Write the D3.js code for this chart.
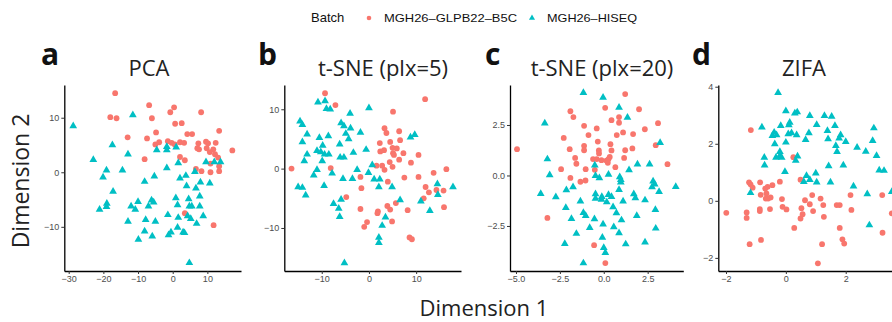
<!DOCTYPE html>
<html>
<head>
<meta charset="utf-8">
<script src="https://cdn.jsdelivr.net/npm/d3@7"></script>
<style>
  html, body { margin: 0; padding: 0; background: #fff; }
  svg { display: block; }
</style>
</head>
<body>
<div id="chart"></div>
<script>
// batch names
const batches = ['MGH26\u2013GLPB22\u2013B5C', 'MGH26\u2013HISEQ'];

// PCA
const pcaGLPB = [[-16.6,14.5],[-6.8,12.3],[0.4,11.9],[-0.7,11.0],[8.2,11.0],[-18.0,10.1],[-16.2,9.9],[-6.0,9.9],[0.7,8.9],[2.6,9.0],[-4.8,7.3],[-13.0,6.4],[-7.4,6.2],[4.2,7.0],[5.6,7.0],[13.4,7.6],[-5.0,5.1],[-3.9,5.5],[-1.4,5.7],[-0.3,5.4],[0.6,5.1],[2.1,5.5],[3.3,5.4],[7.4,5.3],[7.1,4.4],[7.6,4.2],[9.6,5.6],[10.2,5.3],[9.8,4.4],[11.7,4.2],[12.4,5.4],[10.7,3.7],[12.2,3.3],[13.1,2.7],[2.1,2.8],[3.5,2.2],[-8.1,2.4],[10.9,1.6],[13.4,1.1],[6.7,0.6],[8.3,0.2],[10.9,0.0],[13.4,0.2],[3.5,-7.5],[11.8,-9.7],[17.2,4.0]];
const pcaHISEQ = [[-28.7,8.6],[-11.5,10.6],[-17.4,5.1],[-12.9,3.4],[-22.9,2.4],[-19.1,0.5],[-20.1,-0.8],[-14.5,0.5],[-17.2,-3.4],[-21.1,-6.7],[-19.0,-5.6],[-19.1,-6.2],[-12.0,-6.1],[-10.8,-6.7],[-10.0,-5.3],[-12.9,-8.9],[-8.1,-1.6],[-8.1,-10.7],[-9.9,-12.2],[-7.0,-6.1],[-6.1,-5.0],[-5.5,-5.4],[-7.8,-8.6],[-5.9,-11.6],[-5.0,-8.9],[-5.3,-0.6],[-4.6,4.2],[-1.7,4.8],[-1.7,4.2],[1.0,4.7],[-1.7,0.9],[1.6,1.8],[-1.4,-7.7],[-1.2,-11.4],[-0.5,-10.9],[0.9,-4.6],[1.4,-5.9],[1.6,-8.2],[1.4,-10.0],[2.1,-1.0],[3.0,-10.9],[3.8,-0.5],[4.0,-2.4],[4.6,-4.8],[4.8,-6.1],[5.5,-6.1],[4.3,-7.9],[5.2,-8.4],[6.7,-2.8],[6.4,0.2],[7.8,-4.3],[7.8,-6.1],[8.0,-1.7],[8.8,-7.9],[6.9,-9.3],[3.4,-11.0],[9.6,2.0],[10.7,-1.9],[12.0,2.0],[13.8,2.0],[4.8,-16.5]];

// t-SNE perplexity 5
const tsne5GLPB = [[-16.4,0.0],[-9.3,12.7],[-7.1,10.7],[-8.1,0.1],[-4.8,-4.8],[-1.8,-1.4],[-1.6,-3.3],[-1.8,-6.8],[-1.0,-9.8],[-0.4,-9.0],[1.6,0.5],[2.8,0.5],[3.3,-0.2],[4.0,-2.2],[1.9,-7.2],[1.8,-7.5],[3.9,-6.3],[4.5,-6.9],[4.9,-8.9],[2.3,4.3],[2.4,2.9],[3.2,3.1],[3.3,6.8],[3.7,6.0],[4.5,4.5],[5.1,9.6],[5.0,3.5],[5.1,2.6],[5.3,2.3],[5.9,3.4],[6.4,6.3],[6.6,4.8],[6.4,1.5],[7.3,2.6],[5.0,0.3],[4.4,1.1],[8.9,1.0],[5.7,-5.8],[7.5,-1.5],[8.2,-7.0],[8.6,-11.6],[9.1,-11.9],[10.5,2.3],[10.5,-1.4],[11.9,11.7],[12.0,-3.1],[11.6,-5.0],[12.7,-4.0],[13.7,-0.7],[14.3,-3.6],[15.8,-3.7],[15.9,-6.5],[16.4,-0.1]];
const tsne5HISEQ = [[-10.8,11.3],[-9.3,11.5],[-9.0,10.2],[-8.2,10.1],[-14.6,8.1],[-14.1,7.5],[-13.1,5.9],[-14.1,4.6],[-10.5,5.3],[-8.6,5.6],[-9.8,4.0],[-11.0,3.1],[-10.2,2.9],[-9.4,2.5],[-8.5,2.5],[-13.1,2.5],[-13.7,1.4],[-9.9,1.4],[-11.0,-0.1],[-11.7,-1.0],[-9.5,-2.8],[-15.0,-3.0],[-14.1,-3.1],[-13.4,-4.4],[-7.8,-0.7],[-7.5,-5.8],[-6.4,-6.6],[-6.2,-8.0],[-5.9,-5.1],[-6.1,2.0],[-5.3,2.0],[-6.2,4.2],[-5.9,7.8],[-5.3,7.3],[-4.9,6.0],[-4.3,5.1],[-3.9,6.9],[-4.0,9.4],[-3.3,2.8],[-5.5,-1.6],[-3.5,-1.6],[-2.5,-0.1],[-1.8,6.2],[-0.6,3.3],[0.0,10.3],[-0.1,-0.6],[0.7,0.7],[1.1,-1.7],[2.3,-1.7],[2.1,-3.0],[4.9,-3.0],[3.5,-8.1],[2.8,-9.5],[2.1,-11.5],[2.1,-12.4],[6.6,-5.2],[8.8,5.4],[9.7,5.8],[-5.2,-15.8],[11.0,-5.4],[12.9,-7.0],[14.5,-2.5],[14.6,-4.3],[17.8,-3.0]];

// t-SNE perplexity 20
const tsne20GLPB = [[-4.94,1.30],[-3.21,-2.10],[-2.43,0.31],[-2.28,1.86],[-1.94,1.30],[-1.90,-0.12],[-1.90,3.18],[-1.73,2.89],[-1.63,0.87],[-1.56,0.58],[-1.33,-0.31],[-1.12,2.46],[-1.12,1.47],[-1.12,1.25],[-1.04,-0.25],[-1.03,0.31],[-0.87,2.00],[-0.51,0.28],[-0.40,2.33],[-0.34,1.68],[-0.40,0.81],[-0.61,0.81],[-0.55,-3.45],[-0.28,1.24],[-0.27,1.09],[-0.13,0.76],[0.08,3.35],[0.09,-4.34],[0.15,0.74],[0.27,0.81],[0.23,0.63],[0.34,0.92],[0.38,1.55],[0.44,1.24],[0.44,2.74],[0.66,0.41],[0.74,2.00],[0.87,2.89],[0.87,2.61],[1.10,2.13],[1.16,0.87],[1.22,1.25],[1.22,4.03],[1.63,1.34],[1.67,2.05],[2.01,3.28],[2.34,2.29],[2.96,1.50],[3.09,2.59],[3.63,0.56]];
const tsne20HISEQ = [[-1.16,4.13],[-0.04,3.89],[0.87,3.40],[1.35,2.90],[-3.36,2.62],[3.21,1.65],[-3.21,0.84],[-3.08,0.05],[-3.59,-0.87],[-2.73,-1.04],[-2.13,-0.69],[-1.75,-0.54],[-2.16,-1.57],[-1.84,-2.11],[-2.22,-3.35],[-1.56,-2.85],[-1.33,-1.25],[-1.16,-1.82],[-1.03,-1.96],[-0.80,-2.56],[-0.53,-2.13],[-0.47,-0.89],[-0.47,-1.11],[-0.47,0.02],[-0.51,0.54],[-0.25,-0.10],[-0.11,-1.02],[-0.13,-1.16],[-0.04,-2.38],[-0.08,-3.04],[0.00,-3.55],[0.09,-3.80],[0.17,-1.29],[0.27,-0.92],[0.27,0.08],[0.44,-1.02],[0.53,-1.53],[0.57,-2.52],[0.72,-1.83],[0.87,-0.68],[0.87,-2.82],[0.97,-0.18],[0.97,-0.31],[1.10,-1.25],[1.01,-2.18],[1.25,-3.37],[0.91,-0.05],[1.44,0.30],[1.71,-0.89],[1.80,-1.09],[1.88,-1.96],[1.92,0.59],[2.35,-1.19],[2.61,0.59],[2.35,-3.28],[2.81,-0.26],[2.90,-0.40],[2.75,-0.54],[2.94,-1.67],[2.96,-2.59],[3.15,-0.78],[4.10,-0.53],[-1.16,-4.31]];

// ZIFA
const zifaGLPB = [[-1.99,-0.42],[-1.17,2.48],[-1.31,-0.41],[-1.31,-0.60],[-1.23,0.65],[-1.18,0.58],[-1.11,0.46],[-1.21,-1.52],[-0.86,0.65],[-0.87,-0.29],[-0.87,-0.36],[-0.83,-1.37],[-0.84,0.21],[-0.69,0.43],[-0.65,0.26],[-0.61,0.49],[-0.67,0.08],[-0.59,0.08],[-0.51,0.12],[-0.53,-0.29],[-0.45,0.55],[-0.20,0.67],[-0.13,0.06],[-0.11,-0.21],[0.02,-0.30],[0.25,1.53],[0.28,-0.95],[0.49,0.74],[0.52,-0.26],[0.49,-0.62],[0.56,-0.47],[0.64,0.02],[0.80,-0.12],[0.88,0.20],[0.91,-0.36],[1.16,0.08],[1.25,-0.15],[1.27,-0.56],[1.21,-1.52],[1.07,-2.19],[1.70,-0.15],[1.80,-0.15],[1.80,-0.95],[1.89,-1.35],[1.95,-1.50],[2.16,0.20],[2.19,-0.32],[3.22,0.20],[3.23,-1.12],[3.54,-0.44]];
const zifaHISEQ = [[-0.26,3.81],[0.00,3.17],[0.30,3.09],[0.38,3.13],[0.80,3.00],[1.29,3.00],[1.53,2.98],[1.03,2.69],[1.64,2.65],[1.39,2.48],[1.83,2.33],[1.78,2.21],[1.41,2.19],[1.67,1.95],[2.00,2.09],[1.71,1.74],[1.92,1.27],[2.38,1.89],[2.67,1.75],[2.94,2.57],[2.90,2.13],[3.03,1.60],[3.12,1.09],[3.28,1.08],[2.26,0.53],[2.72,0.26],[2.79,-0.83],[3.54,0.34],[-0.80,2.60],[-0.72,1.54],[-0.71,1.27],[-1.18,0.30],[-0.45,2.30],[-0.39,2.42],[-0.31,2.33],[-0.37,2.01],[-0.33,1.54],[-0.20,1.60],[-0.14,1.54],[-0.20,1.74],[0.00,2.07],[-0.17,2.65],[0.10,2.68],[0.13,2.77],[0.08,2.36],[0.19,2.40],[0.36,2.33],[0.77,2.40],[0.66,2.16],[0.39,1.58],[0.33,1.43],[-0.03,1.04],[0.69,0.90],[0.60,0.69],[0.80,0.76],[1.00,0.99],[1.03,0.67],[1.43,1.24],[1.49,0.67]];

// tick labels
const pcaXTicks = [-30, -20, -10, 0, 10];
const pcaYTicks = [-10, 0, 10];
const tsne5XTicks = [-10, 0, 10];
const tsne5YTicks = [-10, 0, 10];
const tsne20XTicks = [-5, -2.5, 0, 2.5];
const tsne20YTicks = [-2.5, 0, 2.5];
const zifaXTicks = [-2, 0, 2];
const zifaYTicks = [-2, 0, 2, 4];

const W = 892, H = 322;
const RED = '#F8766D', TEAL = '#00BFC4';
const tickFont = '"Liberation Sans", Arial, sans-serif';
const titleFont = '"Open Sans", "Noto Sans", sans-serif';

const panels = [
  { letter: 'a', title: 'PCA', g1: pcaGLPB, g2: pcaHISEQ, px: [64.3, 241], xd: [-31.27, 19.7], yd: [-18.1, 16.0],
    xt: pcaXTicks, yt: pcaYTicks, fmt: d3.format('d'), titleX: 149, letterX: 41 },
  { letter: 'b', title: 't-SNE (plx=5)', g1: tsne5GLPB, g2: tsne5HISEQ, px: [284.3, 461], xd: [-17.93, 19.5], yd: [-17.25, 14.09],
    xt: tsne5XTicks, yt: tsne5YTicks, fmt: d3.format('d'), titleX: 383, letterX: 258 },
  { letter: 'c', title: 't-SNE (plx=20)', g1: tsne20GLPB, g2: tsne20HISEQ, px: [510, 683.3], xd: [-5.34, 4.53], yd: [-4.73, 4.48],
    xt: tsne20XTicks, yt: tsne20YTicks, fmt: d3.format('.1f'), titleX: 602, letterX: 485 },
  { letter: 'd', title: 'ZIFA', g1: zifaGLPB, g2: zifaHISEQ, px: [718.3, 896], xd: [-2.257, 3.68], yd: [-2.46, 4.06],
    xt: zifaXTicks, yt: zifaYTicks, fmt: d3.format('d'), titleX: 804, letterX: 692 }
];
const plotTop = 85, plotBottom = 271;

const svg = d3.select('#chart').append('svg')
  .attr('width', W)
  .attr('height', H)
  .style('background', '#fff');

const tri = d3.symbol().type(d3.symbolTriangle).size(26);

panels.forEach(p => {
  const x = d3.scaleLinear().domain(p.xd).range(p.px);
  const y = d3.scaleLinear().domain(p.yd).range([plotBottom, plotTop]);

  const g = svg.append('g');

  // points
  g.selectAll('circle.g1')
    .data(p.g1)
    .enter().append('circle')
    .attr('class', 'g1')
    .attr('cx', d => x(d[0]))
    .attr('cy', d => y(d[1]))
    .attr('r', 2.9)
    .attr('fill', RED);

  g.selectAll('path.g2')
    .data(p.g2)
    .enter().append('path')
    .attr('class', 'g2')
    .attr('d', tri)
    .attr('transform', d => `translate(${x(d[0])},${y(d[1]) + 0.6})`)
    .attr('fill', TEAL);

  // axes
  g.append('g')
    .attr('transform', `translate(0,${plotBottom})`)
    .call(d3.axisBottom(x).tickValues(p.xt).tickFormat(p.fmt).tickSizeInner(3).tickSizeOuter(0).tickPadding(2))
    .call(a => a.select('.domain').attr('stroke', '#000').attr('stroke-width', 1.3))
    .call(a => a.selectAll('.tick line').attr('stroke', '#333'))
    .call(a => a.selectAll('.tick text').attr('fill', '#4d4d4d').attr('font-size', '9px').attr('font-family', tickFont));

  g.append('g')
    .attr('transform', `translate(${p.px[0]},0)`)
    .call(d3.axisLeft(y).tickValues(p.yt).tickFormat(p.fmt).tickSizeInner(3).tickSizeOuter(0).tickPadding(2))
    .call(a => a.select('.domain').attr('stroke', '#000').attr('stroke-width', 1.3))
    .call(a => a.selectAll('.tick line').attr('stroke', '#333'))
    .call(a => a.selectAll('.tick text').attr('fill', '#4d4d4d').attr('font-size', '9px').attr('font-family', tickFont));

  // title and panel letter
  svg.append('text')
    .attr('x', p.titleX)
    .attr('y', 76)
    .attr('text-anchor', 'middle')
    .attr('font-family', titleFont)
    .attr('font-size', '22px')
    .attr('fill', '#222')
    .text(p.title);

  svg.append('text')
    .attr('x', p.letterX)
    .attr('y', 65)
    .attr('font-family', titleFont)
    .attr('font-weight', 'bold')
    .attr('font-size', '30px')
    .attr('fill', '#111')
    .text(p.letter);
});

// shared axis titles
svg.append('text')
  .attr('x', 484)
  .attr('y', 316)
  .attr('text-anchor', 'middle')
  .attr('font-family', titleFont)
  .attr('font-size', '22px')
  .attr('fill', '#222')
  .text('Dimension 1');

svg.append('text')
  .attr('transform', 'translate(29,181) rotate(-90)')
  .attr('text-anchor', 'middle')
  .attr('font-family', titleFont)
  .attr('font-size', '23px')
  .attr('fill', '#222')
  .text('Dimension 2');

// legend
const legend = svg.append('g').attr('font-family', tickFont);
legend.append('text')
  .attr('x', 311)
  .attr('y', 22)
  .attr('font-size', '13px')
  .attr('fill', '#111')
  .text('Batch');
legend.append('circle')
  .attr('cx', 369).attr('cy', 18).attr('r', 2.3).attr('fill', RED);
legend.append('text')
  .attr('x', 384).attr('y', 22)
  .attr('font-size', '11px')
  .attr('textLength', 133).attr('lengthAdjust', 'spacingAndGlyphs')
  .attr('fill', '#111')
  .text(batches[0]);
legend.append('path')
  .attr('d', d3.symbol().type(d3.symbolTriangle).size(16))
  .attr('transform', 'translate(532,18)')
  .attr('fill', TEAL);
legend.append('text')
  .attr('x', 547).attr('y', 22)
  .attr('font-size', '11px')
  .attr('textLength', 90).attr('lengthAdjust', 'spacingAndGlyphs')
  .attr('fill', '#111')
  .text(batches[1]);
</script>
</body>
</html>
